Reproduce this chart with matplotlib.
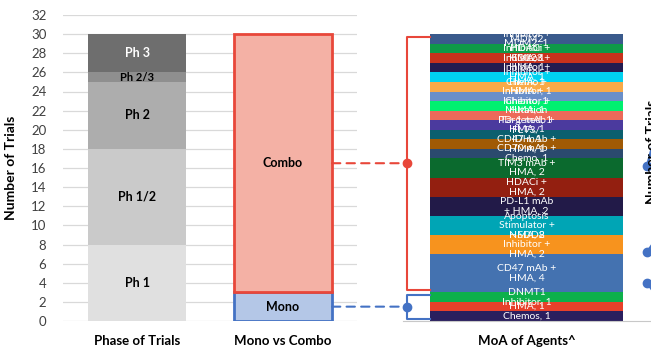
import matplotlib
matplotlib.use("Agg")
import matplotlib.pyplot as plt
from matplotlib.patches import ConnectionPatch

plt.rcParams['font.family'] = ['Lato', 'DejaVu Sans']

# phase of trials (bottom -> top)
phase_names = ['Ph 1', 'Ph 1/2', 'Ph 2', 'Ph 2/3', 'Ph 3']
phase_vals = [8, 10, 7, 1, 4]
phase_cols = ['#e0e0e0', '#cacaca', '#adadad', '#8f8f8f', '#6e6e6e']

# mono vs combo
mc_names = ['Mono', 'Combo']
mc_vals = [3, 27]
mc_face = ['#b4c7e7', '#f4b1a5']
mc_edge = ['#4472c4', '#e8473a']

# MoA of agents (bottom -> top)
moa_labels = [
    'Chemos, 1', 'HMA, 1', 'DNMT1\nInhibitor, 1', 'CD47 mAb +\nHMA, 4',
    'NEDD8\nInhibitor +\nHMA, 2', 'Apoptosis\nStimulator +\nHMA, 2',
    'PD-L1 mAb\n+ HMA, 2', 'HDACi +\nHMA, 2', 'TIM3 mAb +\nHMA, 2',
    'CD70 mAb +\nChemo, 1', 'CD47 mAb +\nHMA, 1', 'FLT3/\nIDH, 1',
    'PD-1 mAb +\nHMA, 1', 'Mutation\nTargeted, 1', 'Inhibitor +\nHMA, 1',
    'HMA +\nChemo, 1', 'Chemo +\nInhibitor, 1', 'Inhibitor +\nHMA, 1',
    'CD123\nInhibitor +\nHMA, 1', 'HDACi\nInhibitor +\nHMA, 1',
    'MDM2\nInhibitor +\nHMA, 1', 'Inhibitor +\nMDM2, 1',
]
moa_vals = [1, 1, 1, 4, 2, 2, 2, 2, 2, 1, 1, 1, 1, 1, 1, 1, 1, 1, 1, 1, 1, 1]
moa_cols = ['#2a1f5e', '#e8402a', '#0db04b', '#4472b0', '#f7931e', '#00a5b5',
            '#221a48', '#931f10', '#0b6a2e', '#2b4a6e', '#a05a05', '#0b5f6e',
            '#4b3a9e', '#ec6a5a', '#00f070', '#6a8fc8', '#f8aa48', '#00d2f0',
            '#231c50', '#c8321c', '#0e9a48', '#3a5a8c']

# fragment of the next (cropped) chart
frag_start = [16.2, 7.2, 4.0]
frag_end = [22.8, 9.7, 1.6]

W, H = 651, 353
fig = plt.figure(figsize=(6.51, 3.53), dpi=100)

y0, y1 = 321, 15
ax = fig.add_axes([63 / W, (H - y0) / H, 294 / W, (y0 - y1) / H])
bw = 98 / 146
ax.set_xlim(-0.507, 1.507)
ax.set_ylim(0, 32)

bottom = 0
for name, v, c in zip(phase_names, phase_vals, phase_cols):
    ax.bar(0, v, bw, bottom=bottom, color=c, zorder=2)
    ax.text(0, bottom + v / 2, name, ha='center', va='center', fontweight='bold',
            fontsize=8 if v == 1 else 9, color='white' if name == 'Ph 3' else 'black', zorder=3)
    bottom += v

bottom = 0
mc_mid = []
for name, v, fc, ec in zip(mc_names, mc_vals, mc_face, mc_edge):
    ax.bar(1, v, bw, bottom=bottom, color=fc, edgecolor=ec, linewidth=2, zorder=2)
    ax.text(1, bottom + v / 2, name, ha='center', va='center', fontweight='bold',
            fontsize=9, zorder=3)
    mc_mid.append((bottom, bottom + v, bottom + v / 2))
    bottom += v

ax.set_yticks(range(0, 33, 2))
ax.grid(axis='y', color='#d9d9d9', linewidth=0.9, zorder=0)
ax.set_xticks([0, 1])
ax.set_xticklabels(['Phase of Trials', 'Mono vs Combo'], fontweight='bold', fontsize=9.5)
ax.tick_params(length=0, labelsize=9.5, labelcolor='#404040')
ax.tick_params(axis='x', pad=10, labelcolor='black')
ax.tick_params(axis='y', pad=12)
for s in ax.spines.values():
    s.set_visible(False)
ax.set_ylabel('Number of Trials', fontweight='bold', fontsize=10, labelpad=10)

# MoA bar
ax3 = fig.add_axes([403 / W, (H - y0) / H, 247 / W, (y0 - y1) / H])
ax3.set_xlim(-0.64, 0.64)
ax3.set_ylim(0, 32)
bottom = 0
for lab, v, c in zip(moa_labels, moa_vals, moa_cols):
    ax3.bar(0, v, 1, bottom=bottom, color=c, zorder=2)
    ax3.text(0, bottom + v / 2, lab, ha='center', va='center', color='white',
             fontsize=7.5, linespacing=1.05, zorder=3, clip_on=True)
    bottom += v
ax3.set_xticks([0])
ax3.set_xticklabels(['MoA of Agents^'], fontweight='bold', fontsize=9.5)
ax3.tick_params(length=0, pad=10)
ax3.set_yticks([])
for k in ['left', 'right', 'top']:
    ax3.spines[k].set_visible(False)
ax3.spines['bottom'].set_color('#c8c8c8')

# connectors
bx = -0.62
for (lo, hi, mid), ec in zip(mc_mid, mc_edge):
    a, b = lo + 0.25, hi - 0.25
    ax3.plot([-0.5, bx, bx, -0.5], [a, a, b, b], color=ec, lw=1.5, clip_on=False, zorder=4)
    ax3.plot([bx], [mid], 'o', color=ec, ms=6, clip_on=False, zorder=5)
    con = ConnectionPatch(xyA=(1 + bw / 2, mid), coordsA=ax.transData,
                          xyB=(bx, mid), coordsB=ax3.transData,
                          color=ec, lw=1.5, linestyle=(0, (4, 3)))
    fig.add_artist(con)

# cropped next chart
ax4 = fig.add_axes([644 / W, (H - y0) / H, 20 / W, (y0 - y1) / H])
ax4.set_xlim(0, 1)
ax4.set_ylim(0, 32)
ax4.axis('off')
for s0, s1 in zip(frag_start, frag_end):
    ax4.plot([0.15, 1], [s0, s1], color='#4472c4', lw=1.8, clip_on=False)
    ax4.plot([0.15], [s0], 'o', color='#4472c4', ms=6, clip_on=False)
fig.text(652 / W, 1 - 152 / H, 'Number of Trials', rotation=90, ha='center', va='center',
         fontweight='bold', fontsize=10)

fig.savefig('out.png', dpi=100)
